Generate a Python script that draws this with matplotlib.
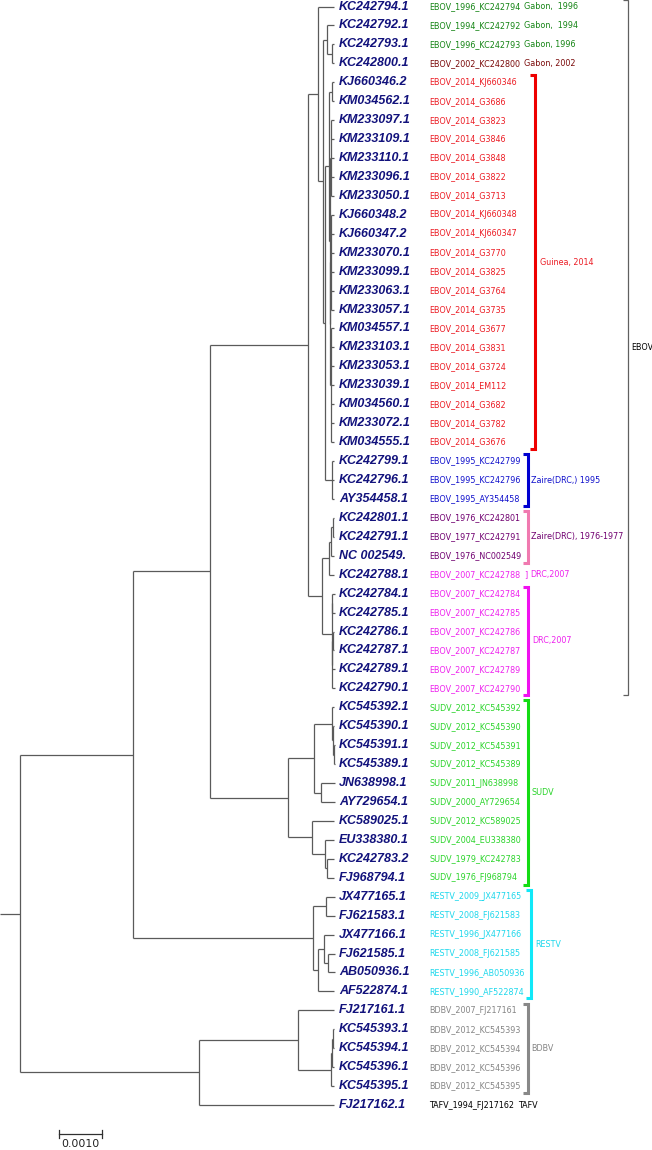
import matplotlib
matplotlib.use("Agg")
import matplotlib.pyplot as plt
from matplotlib.collections import LineCollection
from matplotlib.transforms import blended_transform_factory

# ---------------- data ----------------
# tree topology + branch lengths (substitutions/site)
newick = (
    "((("
    # EBOV
    "((KC242794.1:0.00038,((KC242792.1:0.00017,(KC242793.1:0.00005,KC242800.1:0.00005):0.00012):0.00009,"
    "(((KJ660346.2:0.00006,KM034562.1:0.00006):0.00007,"
    "((KM233097.1:0.00007,KM233109.1:0.00007,KM233110.1:0.00007,KM233096.1:0.00007,KM233050.1:0.00007):0.00002,"
    "((KJ660348.2:0.00006,KJ660347.2:0.00006,KM233070.1:0.00006,KM233099.1:0.00006,KM233063.1:0.00006,KM233057.1:0.00006):0.00002,"
    "(KM034557.1:0.00006,KM233103.1:0.00006,KM233053.1:0.00006,KM233039.1:0.00006,KM034560.1:0.00006,KM233072.1:0.00006,KM034555.1:0.00006):0.00002"
    "):0.00001):0.00003):0.00008,"
    "(KC242799.1:0.00005,KC242796.1:0.00005,AY354458.1:0.00005):0.00016):0.00005):0.00012):0.00023,"
    "((((KC242801.1:0.00003,KC242791.1:0.00003):0.00005,NC_002549.:0.00008):0.00005,KC242788.1:0.00013):0.00014,"
    "((KC242784.1:0.00005,KC242785.1:0.00005):0.00002,((KC242786.1:0.00002,KC242787.1:0.00002):0.00003,KC242789.1:0.00006,KC242790.1:0.00006):0.00001):0.00021"
    "):0.00034):0.00224,"
    # SUDV
    "(((KC545392.1:0.00004,(KC545390.1:0.00002,(KC545391.1:0.00001,KC545389.1:0.00001):0.00002):0.00002):0.00042,"
    "(JN638998.1:0.00032,AY729654.1:0.00032):0.00015):0.00060,"
    "(KC589025.1:0.00050,(EU338380.1:0.00022,(KC242783.2:0.00016,FJ968794.1:0.00016):0.00006):0.00028):0.00056"
    "):0.00179"
    "):0.00179,"
    # RESTV
    "((JX477165.1:0.00020,FJ621583.1:0.00020):0.00030,"
    "((JX477166.1:0.00024,(FJ621585.1:0.00016,AB050936.1:0.00016):0.00009):0.00013,AF522874.1:0.00037):0.00012"
    "):0.00415"
    "):0.00260,"
    # BDBV + TAFV
    "((FJ217161.1:0.00084,(((KC545393.1:0.00003,KC545394.1:0.00003):0.00003,KC545396.1:0.00006):0.00002,KC545395.1:0.00008):0.00076):0.00228,"
    "FJ217162.1:0.00312):0.00412"
    "):0.00046;"
)

isolate_labels = [
    "EBOV_1996_KC242794", "EBOV_1994_KC242792", "EBOV_1996_KC242793", "EBOV_2002_KC242800",
    "EBOV_2014_KJ660346", "EBOV_2014_G3686", "EBOV_2014_G3823", "EBOV_2014_G3846",
    "EBOV_2014_G3848", "EBOV_2014_G3822", "EBOV_2014_G3713", "EBOV_2014_KJ660348",
    "EBOV_2014_KJ660347", "EBOV_2014_G3770", "EBOV_2014_G3825", "EBOV_2014_G3764",
    "EBOV_2014_G3735", "EBOV_2014_G3677", "EBOV_2014_G3831", "EBOV_2014_G3724",
    "EBOV_2014_EM112", "EBOV_2014_G3682", "EBOV_2014_G3782", "EBOV_2014_G3676",
    "EBOV_1995_KC242799", "EBOV_1995_KC242796", "EBOV_1995_AY354458",
    "EBOV_1976_KC242801", "EBOV_1977_KC242791", "EBOV_1976_NC002549",
    "EBOV_2007_KC242788", "EBOV_2007_KC242784", "EBOV_2007_KC242785", "EBOV_2007_KC242786",
    "EBOV_2007_KC242787", "EBOV_2007_KC242789", "EBOV_2007_KC242790",
    "SUDV_2012_KC545392", "SUDV_2012_KC545390", "SUDV_2012_KC545391", "SUDV_2012_KC545389",
    "SUDV_2011_JN638998", "SUDV_2000_AY729654", "SUDV_2012_KC589025", "SUDV_2004_EU338380",
    "SUDV_1979_KC242783", "SUDV_1976_FJ968794",
    "RESTV_2009_JX477165", "RESTV_2008_FJ621583", "RESTV_1996_JX477166", "RESTV_2008_FJ621585",
    "RESTV_1996_AB050936", "RESTV_1990_AF522874",
    "BDBV_2007_FJ217161", "BDBV_2012_KC545393", "BDBV_2012_KC545394", "BDBV_2012_KC545396",
    "BDBV_2012_KC545395", "TAFV_1994_FJ217162",
]

tip_group = (["gabon"] * 3 + ["gabon2002"] + ["guinea"] * 20 + ["zaire95"] * 3 +
             ["zaire76"] * 3 + ["drc07"] * 7 + ["sudv"] * 10 + ["restv"] * 6 +
             ["bdbv"] * 5 + ["tafv"])

gabon_notes = ["Gabon,  1996", "Gabon,  1994", "Gabon, 1996", "Gabon, 2002"]

# bracketed clades: (first row, last row, label, group)
clade_brackets = [
    (4, 23, "Guinea, 2014", "guinea"),
    (24, 26, "Zaire(DRC,) 1995", "zaire95"),
    (27, 29, "Zaire(DRC), 1976-1977", "zaire76"),
    (31, 36, "DRC,2007", "drc07"),
    (37, 46, "SUDV", "sudv"),
    (47, 52, "RESTV", "restv"),
    (53, 57, "BDBV", "bdbv"),
]
ebov_rows = (0, 36)
scale_length = 0.0010

# ---------------- style ----------------
W, H = 652, 1150
text_col = {
    "gabon": "#148414", "gabon2002": "#7a0a0a", "guinea": "#ec1c24", "zaire95": "#1010cc",
    "zaire76": "#700070", "drc07": "#ee22ee", "sudv": "#2ad42a", "restv": "#1ed8ec",
    "bdbv": "#858585", "tafv": "#000000",
}
bracket_col = {
    "guinea": "#ee0000", "zaire95": "#0000d0", "zaire76": "#f07ab0", "drc07": "#f010f0",
    "sudv": "#14dc14", "restv": "#10e8f8", "bdbv": "#888888",
}
bracket_x = {"guinea": 535, "zaire95": 527.5, "zaire76": 527.5, "drc07": 527.5,
             "sudv": 527.5, "restv": 530.5, "bdbv": 527.5}
bracket_text_x = {"guinea": 539.5, "zaire95": 531, "zaire76": 531, "drc07": 532.5,
                  "sudv": 532, "restv": 535, "bdbv": 531}
navy = "#12127c"
branch_col = "#5a5a5a"

# ---------------- parse tree ----------------
def parse_newick(s):
    pos = 0

    def node():
        nonlocal pos
        children = []
        if s[pos] == "(":
            pos += 1
            children.append(node())
            while s[pos] == ",":
                pos += 1
                children.append(node())
            pos += 1  # ')'
        start = pos
        while pos < len(s) and s[pos] not in ":,();":
            pos += 1
        name = s[start:pos]
        length = 0.0
        if pos < len(s) and s[pos] == ":":
            pos += 1
            start = pos
            while s[pos] not in ",();":
                pos += 1
            length = float(s[start:pos])
        return {"name": name, "children": children, "len": length}

    return node()

root = parse_newick(newick)
tips = []

def layout(n, depth):
    n["x"] = depth
    if not n["children"]:
        n["y"] = len(tips)
        tips.append(n)
        return
    for c in n["children"]:
        layout(c, depth + c["len"])
    n["y"] = 0.5 * (n["children"][0]["y"] + n["children"][-1]["y"])

layout(root, 0.0)

segs = []
def collect(n):
    for c in n["children"]:
        segs.append([(n["x"], c["y"]), (c["x"], c["y"])])
        collect(c)
    if n["children"]:
        segs.append([(n["x"], n["children"][0]["y"]), (n["x"], n["children"][-1]["y"])])
collect(root)
segs.append([(-root["len"], root["y"]), (0.0, root["y"])])

# ---------------- figure ----------------
fig = plt.figure(figsize=(W / 100, H / 100), dpi=100)
ax = fig.add_axes([0, 0, 1, 1])
ax.axis("off")
px_per_unit = 43.4 / 0.001
x_left = -root["len"]
ax.set_xlim(x_left, x_left + W / px_per_unit)
row0_px, row_px = 6.5, 18.94
ax.set_ylim((H - row0_px) / row_px, -row0_px / row_px)

ax.add_collection(LineCollection(segs, colors=branch_col, linewidths=0.9, capstyle="butt"))

tr = blended_transform_factory(ax.transAxes, ax.transData)
max_tip = max(t["x"] for t in tips)
name_x = max_tip + 0.0001
small = dict(family="DejaVu Sans", fontsize=5.8, va="center")

for i, t in enumerate(tips):
    ax.text(name_x, t["y"], t["name"].replace("_", " "), fontsize=9.0, fontweight="bold",
            fontstyle="italic", family="Liberation Sans", color=navy, va="center", ha="left")
    ax.text(429 / W, t["y"], isolate_labels[i], color=text_col[tip_group[i]],
            transform=tr, ha="left", **small)

for i, note in enumerate(gabon_notes):
    ax.text(524.5 / W, tips[i]["y"], note, color=text_col[tip_group[i]], transform=tr,
            ha="left", **small)

pad = 0.36
def bracket(xp, r0, r1, color, lw, tick=5):
    x = xp / W
    xt = (xp - tick) / W
    y0, y1 = tips[r0]["y"] - pad, tips[r1]["y"] + pad
    ax.plot([xt, x, x, xt], [y0, y0, y1, y1], color=color, lw=lw, transform=tr,
            solid_joinstyle="miter", solid_capstyle="butt")

for r0, r1, lab, g in clade_brackets:
    bracket(bracket_x[g], r0, r1, bracket_col[g], 2.2)
    ax.text(bracket_text_x[g] / W, 0.5 * (tips[r0]["y"] + tips[r1]["y"]), lab,
            color=text_col[g], transform=tr, ha="left", **small)

# single 2007 isolate
ax.text(524 / W, tips[30]["y"], "]", color=text_col["drc07"], transform=tr, ha="left", **small)
ax.text(530 / W, tips[30]["y"], "DRC,2007", color=text_col["drc07"], transform=tr, ha="left", **small)
# TAFV
ax.text(518.5 / W, tips[58]["y"], "TAFV", color="black", transform=tr, ha="left", **small)

# EBOV bracket
bracket(627.7, ebov_rows[0], ebov_rows[1], "#606060", 0.9, tick=4.5)
ax.text(631 / W, 0.5 * (tips[ebov_rows[0]]["y"] + tips[ebov_rows[1]]["y"]), "EBOV",
        color="black", transform=tr, ha="left", **small)

# scale bar
sb_x0 = 0.0009
sb_y = (1134 - row0_px) / row_px
ax.plot([sb_x0, sb_x0 + scale_length], [sb_y, sb_y], color="#303030", lw=0.9)
for xx in (sb_x0, sb_x0 + scale_length):
    ax.plot([xx, xx], [sb_y - 0.2, sb_y + 0.2], color="#303030", lw=0.9)
ax.text(sb_x0 + scale_length / 2, sb_y + 0.25, "0.0010", ha="center", va="top",
        family="DejaVu Sans", fontsize=7.8, color="#202020")

fig.savefig("out.png", dpi=100)
